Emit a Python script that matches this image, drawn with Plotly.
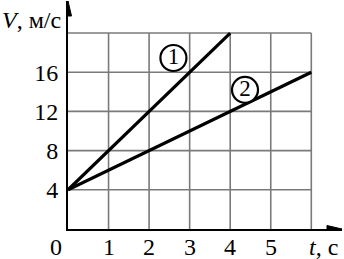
import plotly.graph_objects as go

# Data
t1 = [0, 4]
v1 = [4, 20]
t2 = [0, 6]
v2 = [4, 16]
x_ticks = [1, 2, 3, 4, 5]
y_ticks = [4, 8, 12, 16]
grid_x = [1, 2, 3, 4, 5, 6]
grid_y = [4, 8, 12, 16, 20]
label_pos = {"1": (2.6, 17.45), "2": (4.365, 14.2)}

XMAX = 6.757
YMAX = 23.27
FONT = "Liberation Serif"

fig = go.Figure()

shapes = []
for gx in grid_x:
    shapes.append(dict(type="line", xref="x", yref="y", x0=gx, x1=gx, y0=0, y1=20,
                       line=dict(color="#7a7a7a", width=1.6), layer="below"))
for gy in grid_y:
    shapes.append(dict(type="line", xref="x", yref="y", x0=0, x1=6, y0=gy, y1=gy,
                       line=dict(color="#7a7a7a", width=1.6), layer="below"))
# axis arrowheads (pixel-sized paths anchored at axis tips)
shapes.append(dict(type="path", xref="x", yref="y", xsizemode="pixel", ysizemode="pixel",
                   xanchor=XMAX, yanchor=0, path="M0,0 L-15,3.5 L-15,-3.5 Z",
                   fillcolor="black", line=dict(color="black", width=1)))
shapes.append(dict(type="path", xref="x", yref="y", xsizemode="pixel", ysizemode="pixel",
                   xanchor=0, yanchor=YMAX, path="M0,0 L3.5,-15 L-3.5,-15 Z",
                   fillcolor="black", line=dict(color="black", width=1)))

fig.add_trace(go.Scatter(x=t1, y=v1, mode="lines", line=dict(color="black", width=3.2),
                         cliponaxis=False, hoverinfo="skip"))
fig.add_trace(go.Scatter(x=t2, y=v2, mode="lines", line=dict(color="black", width=3.2),
                         cliponaxis=False, hoverinfo="skip"))
for name, (lx, ly) in label_pos.items():
    fig.add_trace(go.Scatter(x=[lx], y=[ly], mode="markers+text", text=[name],
                             textposition="middle center",
                             textfont=dict(family=FONT, size=23, color="black"),
                             marker=dict(symbol="circle", size=26, color="white",
                                         line=dict(color="black", width=2.2)),
                             hoverinfo="skip"))

tick_font = dict(family=FONT, size=24, color="black")
annotations = [
    dict(text="0", x=0, y=0, xref="x", yref="y", xanchor="center", yanchor="middle",
         xshift=-12, yshift=-18, showarrow=False, font=tick_font),
    dict(text="<i>V</i>, м/с", x=0, y=YMAX, xref="x", yref="y", xanchor="right", yanchor="middle",
         xshift=-5, yshift=-19, showarrow=False, font=tick_font),
    dict(text="<i>t</i>, с", x=XMAX, y=0, xref="x", yref="y", xanchor="right", yanchor="middle",
         xshift=-2, yshift=-18, showarrow=False, font=tick_font),
]
for xv in x_ticks:
    annotations.append(dict(text=str(xv), x=xv, y=0, xref="x", yref="y",
                            xanchor="center", yanchor="middle", yshift=-18,
                            showarrow=False, font=tick_font))

fig.update_layout(
    template="none",
    width=344, height=259,
    margin=dict(l=68, r=2, t=1, b=30, autoexpand=False),
    paper_bgcolor="white", plot_bgcolor="white",
    showlegend=False,
    shapes=shapes,
    annotations=annotations,
    xaxis=dict(range=[0, XMAX], showgrid=False, zeroline=False, showline=True,
               automargin=False, showticklabels=False,
               linecolor="black", linewidth=2, ticks="", fixedrange=True),
    yaxis=dict(range=[0, YMAX], showgrid=False, zeroline=False, showline=True,
               automargin=False,
               linecolor="black", linewidth=2, tickmode="array", tickvals=y_ticks,
               ticktext=[str(v) for v in y_ticks], ticks="", fixedrange=True,
               ticklabelstandoff=3,
               tickfont=tick_font),
)

fig.write_html("out.html")
